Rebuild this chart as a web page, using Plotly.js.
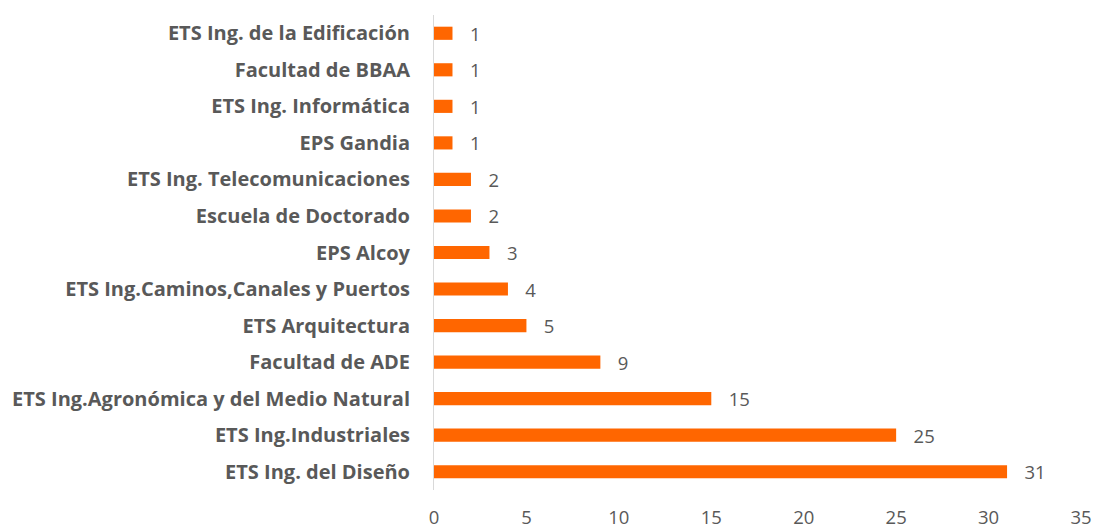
<!DOCTYPE html>
<html><head><meta charset="utf-8">
<script src="https://cdn.plot.ly/plotly-3.0.1.min.js"></script>
<style>body{margin:0}#c{width:1100px;height:531px}</style>
</head><body><div id="c"></div>
<script>
const categories = [
  "ETS Ing. del Diseño",
  "ETS Ing.Industriales",
  "ETS Ing.Agronómica y del Medio Natural",
  "Facultad de ADE",
  "ETS Arquitectura",
  "ETS Ing.Caminos,Canales y Puertos",
  "EPS Alcoy",
  "Escuela de Doctorado",
  "ETS Ing. Telecomunicaciones",
  "EPS Gandia",
  "ETS Ing. Informática",
  "Facultad de BBAA",
  "ETS Ing. de la Edificación"
];
const values = [31, 25, 15, 9, 5, 4, 3, 2, 2, 1, 1, 1, 1];
const xTicks = [0, 5, 10, 15, 20, 25, 30, 35];

const font = '"Open Sans", "Lato", sans-serif';
Plotly.newPlot('c', [{
  type: 'bar',
  orientation: 'h',
  y: categories,
  x: values,
  width: 0.36,
  marker: {color: '#FF6600'},
  text: values.map(v => '   ' + v),
  textposition: 'outside',
  constraintext: 'none',
  cliponaxis: false,
  textfont: {family: font, size: 18.5, color: '#595959'},
  hoverinfo: 'none'
}], {
  width: 1100, height: 531,
  margin: {l: 434, r: 19, t: 15, b: 41},
  paper_bgcolor: '#fff', plot_bgcolor: '#fff',
  showlegend: false,
  xaxis: {
    range: [0, 35], tickvals: xTicks, ticktext: xTicks.map(String),
    showgrid: false, zeroline: false, showline: false,
    ticks: 'outside', ticklen: 11, tickcolor: 'rgba(0,0,0,0)',
    tickfont: {family: font, size: 18.5, color: '#595959'},
    automargin: false
  },
  yaxis: {
    type: 'category', range: [-0.5, 12.5],
    showgrid: false, zeroline: false,
    showline: true, linecolor: '#d9d9d9', linewidth: 1,
    ticks: '', ticklabelstandoff: 19,
    tickfont: {family: font, size: 20, color: '#595959', weight: 'bold'},
    automargin: false
  },
  bargap: 0.6
}, {staticPlot: true});
</script></body></html>
